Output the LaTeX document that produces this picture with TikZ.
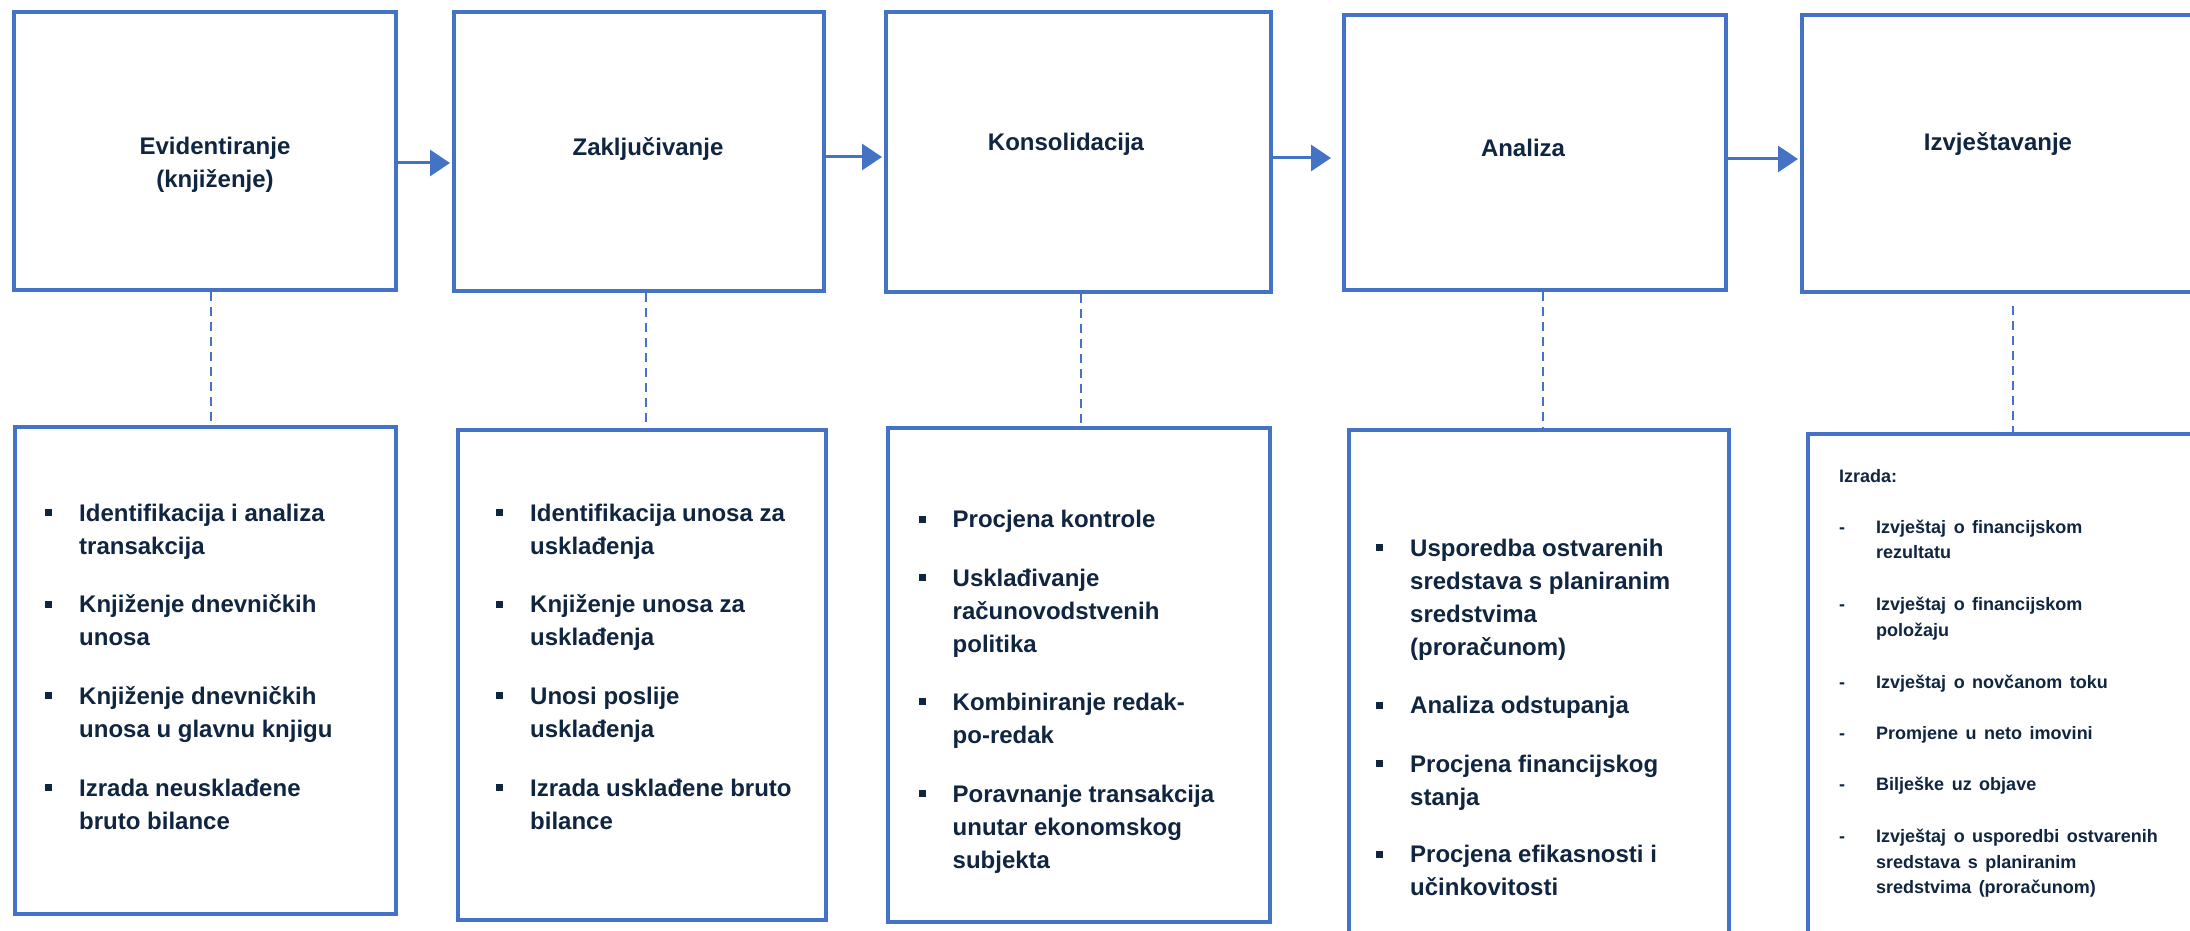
\documentclass[tikz,border=0pt]{standalone}
\usepackage{fontspec}
\setmainfont{Liberation Sans}
\usetikzlibrary{arrows.meta}
\definecolor{boxblue}{HTML}{4472C4}
\definecolor{txt}{HTML}{0F2540}
\tikzset{
  box/.style={draw=boxblue, line width=4pt, anchor=north west, inner sep=0pt},
  flow/.style={draw=boxblue, line width=3pt, -{Triangle[length=20pt,width=26pt]}},
  link/.style={draw=boxblue, line width=1.5pt, dash pattern=on 9pt off 6pt},
  ttl/.style={font=\bfseries\fontsize{24}{33}\selectfont, text=txt, align=center, anchor=north, inner sep=0pt},
  itm/.style={font=\bfseries\fontsize{24}{33}\selectfont, text=txt, align=left, anchor=north west, inner sep=0pt},
  rpt/.style={font={\bfseries\fontsize{18}{25.5}\selectfont\spaceskip=7.5pt\relax}, text=txt, align=left, anchor=north west, inner sep=0pt},
}
\newcommand{\sqb}{\llap{\rule[5pt]{7pt}{7pt}\hspace{27pt}}}
\newcommand{\dsh}{\llap{\makebox[37pt][l]{-}}}
\begin{document}
\begin{tikzpicture}[x=1pt,y=-1pt]
\useasboundingbox (0,0) rectangle (2190,931);
\clip (0,0) rectangle (2190,931);
\fill[white] (0,0) rectangle (2190,931);
% top boxes
\node[box, minimum width=382pt, minimum height=278pt] (t1) at (12,10) {};
\node[box, minimum width=370pt, minimum height=279pt] (t2) at (452,10) {};
\node[box, minimum width=385pt, minimum height=280pt] (t3) at (884,10) {};
\node[box, minimum width=382pt, minimum height=275pt] (t4) at (1342,13) {};
\node[box, minimum width=450pt, minimum height=277pt] (t5) at (1800,13) {};
% bottom boxes
\node[box, minimum width=381pt, minimum height=487pt] (b1) at (13,425) {};
\node[box, minimum width=368pt, minimum height=490pt] (b2) at (456,428) {};
\node[box, minimum width=382pt, minimum height=494pt] (b3) at (886,426) {};
\node[box, minimum width=380pt, minimum height=540pt] (b4) at (1347,428) {};
\node[box, minimum width=450pt, minimum height=540pt] (b5) at (1806,432) {};
% titles
\node[ttl] (h1) at (215,131.5) {\strut Evidentiranje\\(knjiženje)};
\node[ttl] (h2) at (648,132) {\strut Zaključivanje};
\node[ttl] (h3) at (1066,127) {\strut Konsolidacija};
\node[ttl] (h4) at (1523,133) {\strut Analiza};
\node[ttl] (h5) at (1998,127) {\strut Izvještavanje};
% arrows
\draw[flow, shorten >=2pt] (t1.east |- 0,163) -- (t2.west |- 0,163);
\draw[flow, shorten >=2pt] (t2.east |- 0,157) -- (t3.west |- 0,157);
\draw[flow, shorten >=11pt] (t3.east |- 0,158) -- (t4.west |- 0,158);
\draw[flow, shorten >=2pt] (t4.east |- 0,159) -- (t5.west |- 0,159);
% dashed links
\draw[link] (t1.south -| 211,0) -- (b1.north -| 211,0);
\draw[link] (t2.south -| 646,0) -- (b2.north -| 646,0);
\draw[link] (t3.south -| 1081,0) -- (b3.north -| 1081,0);
\draw[link] (t4.south -| 1543,0) -- (b4.north -| 1543,0);
\draw[link] ([yshift=-12pt]t5.south -| 2013,0) -- (b5.north -| 2013,0);
% box 1 items
\node[itm] (i11) at (79,498) {\strut\sqb Identifikacija i analiza\\transakcija};
\node[itm] (i12) at (79,589.5) {\strut\sqb Knjiženje dnevničkih\\unosa};
\node[itm] (i13) at (79,681) {\strut\sqb Knjiženje dnevničkih\\unosa u glavnu knjigu};
\node[itm] (i14) at (79,773) {\strut\sqb Izrada neusklađene\\bruto bilance};
% box 2 items
\node[itm] (i21) at (530,498) {\strut\sqb Identifikacija unosa za\\usklađenja};
\node[itm] (i22) at (530,589.5) {\strut\sqb Knjiženje unosa za\\usklađenja};
\node[itm] (i23) at (530,681) {\strut\sqb Unosi poslije\\usklađenja};
\node[itm] (i24) at (530,773) {\strut\sqb Izrada usklađene bruto\\bilance};
% box 3 items
\node[itm] (i31) at (952.5,504.5) {\strut\sqb Procjena kontrole};
\node[itm] (i32) at (952.5,563) {\strut\sqb Usklađivanje\\računovodstvenih\\politika};
\node[itm] (i33) at (952.5,687) {\strut\sqb Kombiniranje redak-\\po-redak};
\node[itm] (i34) at (952.5,779) {\strut\sqb Poravnanje transakcija\\unutar ekonomskog\\subjekta};
% box 4 items
\node[itm] (i41) at (1410,533) {\strut\sqb Usporedba ostvarenih\\sredstava s planiranim\\sredstvima\\(proračunom)};
\node[itm] (i42) at (1410,690.5) {\strut\sqb Analiza odstupanja};
\node[itm] (i43) at (1410,749) {\strut\sqb Procjena financijskog\\stanja};
\node[itm] (i44) at (1410,839.5) {\strut\sqb Procjena efikasnosti i\\učinkovitosti};
% box 5 items
\node[rpt] (i50) at (1839,464.6) {\strut Izrada:};
\node[rpt] (i51) at (1876,515.3) {\strut\dsh Izvještaj o financijskom\\rezultatu};
\node[rpt] (i52) at (1876,592.6) {\strut\dsh Izvještaj o financijskom\\položaju};
\node[rpt] (i53) at (1876,670.3) {\strut\dsh Izvještaj o novčanom toku};
\node[rpt] (i54) at (1876,721.3) {\strut\dsh Promjene u neto imovini};
\node[rpt] (i55) at (1876,772.9) {\strut\dsh Bilješke uz objave};
\node[rpt] (i56) at (1876,824.6) {\strut\dsh Izvještaj o usporedbi ostvarenih\\sredstava s planiranim\\sredstvima (proračunom)};
\end{tikzpicture}
\end{document}
